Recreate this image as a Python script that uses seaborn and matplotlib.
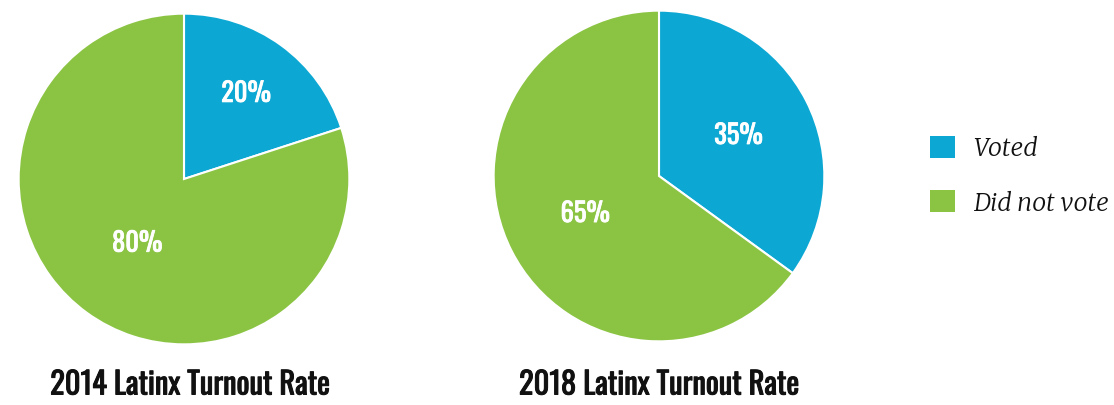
import matplotlib
matplotlib.use("Agg")
import matplotlib.pyplot as plt
import matplotlib.patheffects as pe
from matplotlib.patches import Patch
import numpy as np
import seaborn as sns

sns.set_theme(style="white")
plt.rcParams['font.family'] = ['Oswald', 'DejaVu Sans']

# Turnout data
categories = ["Voted", "Did not vote"]
years = ["2014", "2018"]
voted = [20, 35]
did_not_vote = [80, 65]
titles = ["2014 Latinx Turnout Rate", "2018 Latinx Turnout Rate"]

colors = ["#0ca8d3", "#8bc443"]

W, H = 1114, 406
fig = plt.figure(figsize=(W / 100, H / 100), dpi=100)
fig.patch.set_facecolor("white")

# pie centres and radius in pixels
centres = [(184, 180), (659, 177)]
radius = 167
label_r = [(0.64, 0.48), (0.54, 0.50)]
title_x = [190, 659]

# slightly heavier strokes for the condensed display text
bold_white = [pe.withStroke(linewidth=0.6, foreground="white")]
bold_dark = [pe.withStroke(linewidth=0.7, foreground="#111111")]

for i, (cx, cy) in enumerate(centres):
    ax = fig.add_axes([(cx - radius) / W, (H - cy - radius) / H,
                       2 * radius / W, 2 * radius / H])
    vals = [voted[i], did_not_vote[i]]
    wedges, _ = ax.pie(vals, colors=colors, startangle=90, counterclock=False,
                       radius=1.0,
                       wedgeprops=dict(edgecolor="white", linewidth=1.5))
    for w, v, r in zip(wedges, vals, label_r[i]):
        mid = np.deg2rad((w.theta1 + w.theta2) / 2)
        ax.text(r * np.cos(mid), r * np.sin(mid), f"{v}%", color="white",
                fontsize=19, fontweight="medium", ha="center", va="center",
                path_effects=bold_white)
    ax.set_xlim(-1.01, 1.01)
    ax.set_ylim(-1.01, 1.01)
    ax.set_aspect("equal")
    ax.axis("off")
    fig.text(title_x[i] / W, (H - 386) / H, titles[i], ha="center", va="center",
             fontsize=22, fontweight="medium", color="#111111",
             path_effects=bold_dark)

handles = [Patch(facecolor=c, edgecolor="none") for c in colors]
fig.legend(handles, categories, loc="center left",
           bbox_to_anchor=(907 / W, (H - 176) / H), frameon=False,
           prop=dict(family=["Merriweather", "DejaVu Serif"], style="italic",
                     weight="normal", size=18),
           handlelength=1.0, handleheight=1.0, handletextpad=0.75,
           labelspacing=1.1, labelcolor="#111111")

fig.savefig("out.png", dpi=100, facecolor="white")
